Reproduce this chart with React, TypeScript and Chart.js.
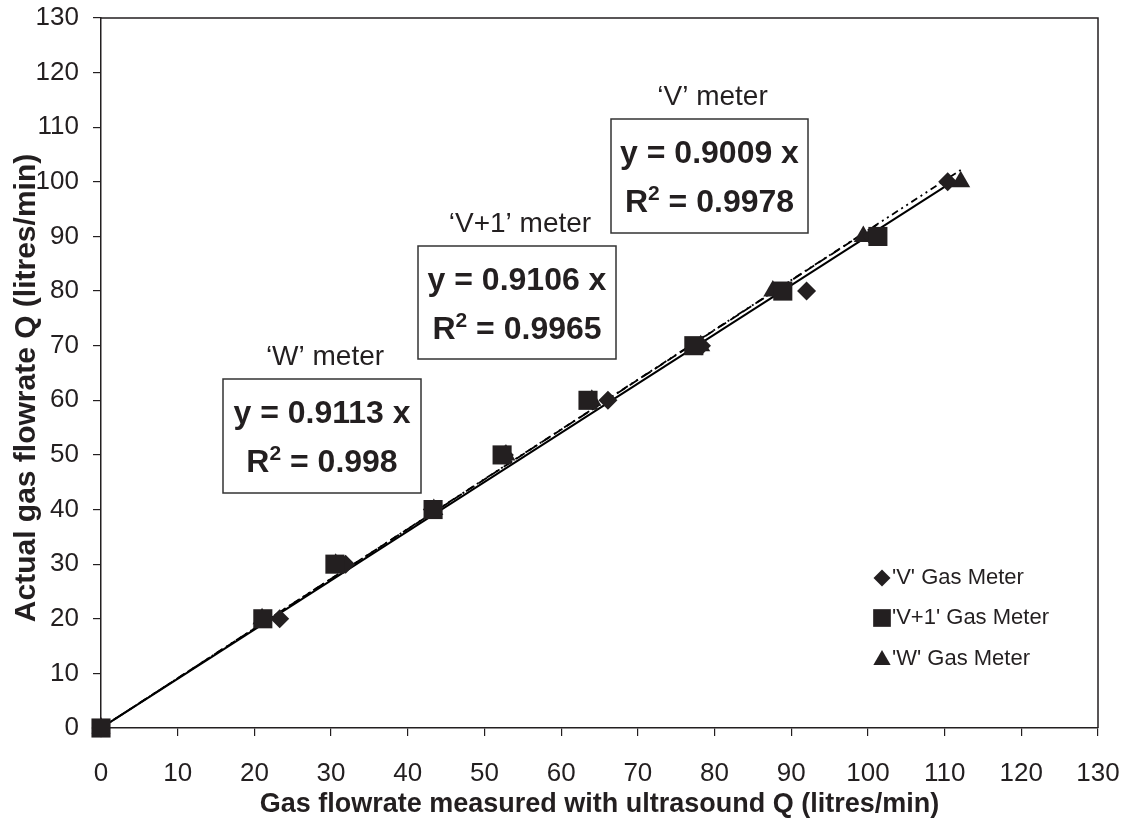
import React, { useEffect, useRef } from "react";
import { Chart, registerables } from "chart.js";

Chart.register(...registerables);

// ---- data ----
const vX = [0, 23.3, 31.9, 43.2, 52.6, 66.1, 78.3, 92.0, 100.5, 110.4];
const vY = [0, 20, 30, 40, 50, 60, 70, 80, 90, 100];
const v1X = [0, 21.1, 30.5, 43.3, 52.3, 63.5, 77.3, 88.9, 101.3];
const v1Y = [0, 20, 30, 40, 50, 60, 70, 80, 90];
const wX = [0, 21.0, 30.6, 43.4, 52.8, 64.0, 78.2, 87.6, 99.4, 112.1];
const wY = [0, 20, 30, 40, 50, 60, 70, 80, 90, 100];

const seriesNames = ["'V' Gas Meter", "'V+1' Gas Meter", "'W' Gas Meter"];
const slopes = [0.9009, 0.9106, 0.9113];
const rSquared = ["0.9978", "0.9965", "0.998"];
const meterLabels = ["\u2018V\u2019 meter", "\u2018V+1\u2019 meter", "\u2018W\u2019 meter"];
const trendEndX = [110.4, 101.3, 112.1];

const xTitle = "Gas flowrate measured with ultrasound Q (litres/min)";
const yTitle = "Actual gas flowrate Q (litres/min)";

const INK = "#231f20";
const FONT = "'Liberation Sans', Arial, sans-serif";

const pts = (xs: number[], ys: number[]) => xs.map((x, i) => ({ x, y: ys[i] }));
const trend = (k: number) => [
  { x: 0, y: 0 },
  { x: trendEndX[k], y: slopes[k] * trendEndX[k] },
];

// box layout (pixels)
const boxes = [
  { k: 0, left: 611, top: 119, w: 197, h: 114 },
  { k: 1, left: 418, top: 246, w: 198, h: 113 },
  { k: 2, left: 223, top: 379, w: 198, h: 114 },
];

function drawMarker(ctx: CanvasRenderingContext2D, style: string, x: number, y: number, r: number) {
  ctx.beginPath();
  if (style === "rect") {
    const s = Math.SQRT1_2 * r;
    ctx.rect(x - s, y - s, 2 * s, 2 * s);
  } else if (style === "rectRot") {
    ctx.moveTo(x, y - r);
    ctx.lineTo(x + r, y);
    ctx.lineTo(x, y + r);
    ctx.lineTo(x - r, y);
    ctx.closePath();
  } else {
    ctx.moveTo(x, y - r);
    ctx.lineTo(x + Math.sin((2 * Math.PI) / 3) * r, y - Math.cos((2 * Math.PI) / 3) * r);
    ctx.lineTo(x + Math.sin((4 * Math.PI) / 3) * r, y - Math.cos((4 * Math.PI) / 3) * r);
    ctx.closePath();
  }
  ctx.fill();
}

const annotPlugin = {
  id: "annot",
  afterDraw(chart: any) {
    const ctx = chart.ctx;
    const a = chart.chartArea;
    ctx.save();
    // top & right frame
    ctx.strokeStyle = INK;
    ctx.lineWidth = 1.5;
    ctx.beginPath();
    ctx.moveTo(a.left, a.top);
    ctx.lineTo(a.right, a.top);
    ctx.lineTo(a.right, a.bottom);
    ctx.stroke();

    // y axis title
    ctx.save();
    ctx.translate(27, 388);
    ctx.rotate(-Math.PI / 2);
    ctx.fillStyle = INK;
    ctx.font = `bold 30px ${FONT}`;
    ctx.textAlign = "center";
    ctx.textBaseline = "middle";
    ctx.fillText(yTitle, 0, 0);
    ctx.restore();

    // equation boxes
    boxes.forEach((b) => {
      ctx.fillStyle = "#fff";
      ctx.fillRect(b.left, b.top, b.w, b.h);
      ctx.strokeStyle = "#333";
      ctx.lineWidth = 1.5;
      ctx.strokeRect(b.left, b.top, b.w, b.h);
      const cx = b.left + b.w / 2;
      ctx.fillStyle = INK;
      ctx.textBaseline = "alphabetic";
      ctx.textAlign = "center";
      ctx.font = `bold 32px ${FONT}`;
      ctx.fillText(`y = ${slopes[b.k].toFixed(4)} x`, cx, b.top + 44);
      const big = `bold 32px ${FONT}`;
      const small = `bold 21px ${FONT}`;
      ctx.font = big;
      const wR = ctx.measureText("R").width;
      const rest = ` = ${rSquared[b.k]}`;
      const wRest = ctx.measureText(rest).width;
      ctx.font = small;
      const w2 = ctx.measureText("2").width;
      const total = wR + w2 + wRest;
      const x0 = cx - total / 2;
      const base = b.top + 93;
      ctx.textAlign = "left";
      ctx.font = big;
      ctx.fillText("R", x0, base);
      ctx.font = small;
      ctx.fillText("2", x0 + wR, base - 12);
      ctx.font = big;
      ctx.fillText(rest, x0 + wR + w2, base);
      ctx.textAlign = "center";
      ctx.font = `28px ${FONT}`;
      ctx.fillText(meterLabels[b.k], cx + 3, b.top - 14);
    });

    // legend
    const styles = ["rectRot", "rect", "triangle"];
    const radii = [8.5, 12.5, 10];
    const rows = [578, 618, 659];
    ctx.font = `22px ${FONT}`;
    ctx.textAlign = "left";
    ctx.textBaseline = "middle";
    styles.forEach((s, i) => {
      ctx.fillStyle = INK;
      drawMarker(ctx, s, 882, rows[i] + (s === "triangle" ? 1 : 0), radii[i]);
      ctx.fillText(seriesNames[i], 892, rows[i]);
    });
    ctx.restore();
  },
};

export default function App() {
  const ref = useRef<HTMLCanvasElement | null>(null);
  useEffect(() => {
    document.body.style.margin = "0";
    const canvas = ref.current!;
    const tickFont = { family: FONT, size: 26 };
    const chart = new Chart(canvas, {
      type: "scatter",
      data: {
        datasets: [
          {
            label: seriesNames[1],
            data: pts(v1X, v1Y),
            pointStyle: "rect",
            pointRadius: 13.5,
            backgroundColor: INK,
            borderColor: INK,
            borderWidth: 0,
            clip: false,
          },
          {
            label: seriesNames[0],
            data: pts(vX, vY),
            pointStyle: "rectRot",
            pointRadius: 9.5,
            backgroundColor: INK,
            borderColor: INK,
            borderWidth: 0,
            clip: false,
          },
          {
            label: seriesNames[2],
            data: pts(wX, wY),
            pointStyle: "triangle",
            pointRadius: 11,
            backgroundColor: INK,
            borderColor: INK,
            borderWidth: 0,
            clip: false,
          },
          {
            type: "line",
            label: "V trend",
            data: trend(0),
            showLine: true,
            borderColor: "#000",
            borderWidth: 2,
            pointRadius: 0,
            fill: false,
          },
          {
            type: "line",
            label: "V+1 trend",
            data: trend(1),
            showLine: true,
            borderColor: "#000",
            borderWidth: 1.8,
            borderDash: [10, 5],
            pointRadius: 0,
            fill: false,
          },
          {
            type: "line",
            label: "W trend",
            data: trend(2),
            showLine: true,
            borderColor: "#000",
            borderWidth: 1.8,
            borderDash: [7, 4, 2, 4, 2, 4],
            pointRadius: 0,
            fill: false,
          },
        ] as any,
      },
      options: {
        responsive: false,
        animation: false,
        events: [],
        layout: { padding: { left: 0, top: 18, right: 30, bottom: 0 } },
        plugins: {
          legend: { display: false },
          tooltip: { enabled: false },
        },
        scales: {
          x: {
            type: "linear",
            min: 0,
            max: 130,
            ticks: { stepSize: 10, font: tickFont, color: INK, padding: 22, maxRotation: 0 },
            grid: { drawOnChartArea: false, drawTicks: true, tickLength: 8, color: INK, lineWidth: 1.2 },
            border: { display: true, color: INK, width: 1.5 },
            title: {
              display: true,
              text: xTitle,
              font: { family: FONT, size: 27, weight: "bold" },
              color: INK,
              padding: { top: 0, bottom: 0 },
            },
            afterFit: (s: any) => {
              s.height = 93;
              s.paddingLeft = 0;
              s.paddingRight = 0;
            },
          },
          y: {
            type: "linear",
            min: 0,
            max: 130,
            ticks: { stepSize: 10, font: tickFont, color: INK, padding: 14 },
            grid: { drawOnChartArea: false, drawTicks: true, tickLength: 8, color: INK, lineWidth: 1.2 },
            border: { display: true, color: INK, width: 1.5 },
            title: { display: false, text: yTitle },
            afterFit: (s: any) => {
              s.width = 101;
              s.paddingTop = 0;
              s.paddingBottom = 0;
            },
          },
        },
      } as any,
      plugins: [annotPlugin],
    });
    return () => chart.destroy();
  }, []);
  return (
    <div style={{ width: 1128, height: 821 }}>
      <canvas ref={ref} width={1128} height={821} style={{ display: "block" }} />
    </div>
  );
}
